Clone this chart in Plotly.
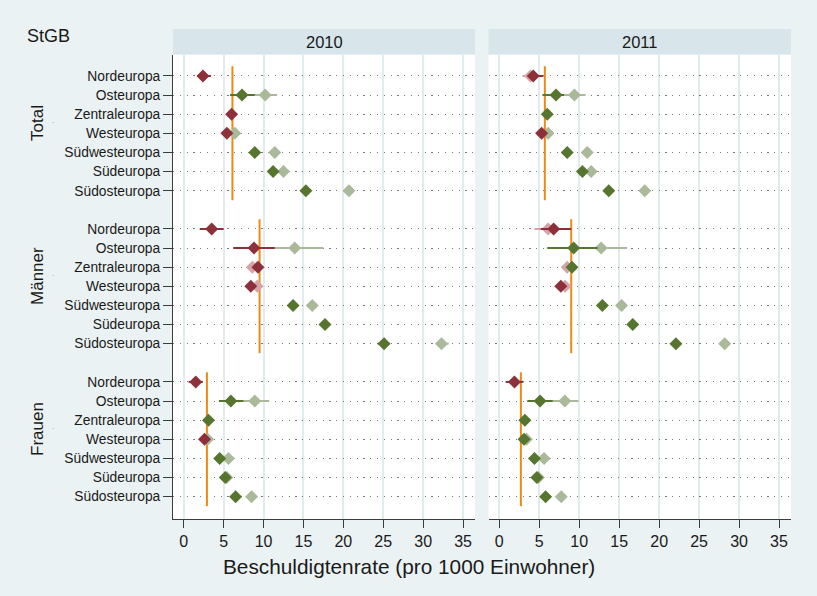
import plotly.graph_objects as go

regions = ["Nordeuropa", "Osteuropa", "Zentraleuropa", "Westeuropa",
           "Südwesteuropa", "Südeuropa", "Südosteuropa"]
groups = ["Total", "Männer", "Frauen"]
years = ["2010", "2011"]
x_ticks = [0, 5, 10, 15, 20, 25, 30, 35]

# reference rate per group (orange line)
ref_2010 = [6.1, 9.5, 2.9]
ref_2011 = [5.7, 9.0, 2.7]

# first estimate (solid colours); 7 regions per group: Total, Männer, Frauen
main_2010 = [2.4, 7.3, 6.0, 5.4, 8.9, 11.2, 15.3,
             3.5, 8.8, 9.3, 8.4, 13.7, 17.7, 25.1,
             1.5, 5.9, 3.1, 2.6, 4.5, 5.2, 6.5]
main_lo_2010 = [1.7, 5.8, None, None, None, None, None,
                2.0, 6.2, None, None, None, None, 24.3,
                0.6, 4.4, None, None, None, None, None]
main_hi_2010 = [3.4, 8.9, None, None, None, None, None,
                5.0, 11.4, None, None, None, None, 25.8,
                2.4, 7.5, None, None, None, None, None]

# second estimate (pale colours)
alt_2010 = [None, 10.2, None, 6.4, 11.4, 12.5, 20.7,
            None, 13.9, 8.6, 9.2, 16.1, None, 32.3,
            None, 8.9, None, 3.0, 5.6, 5.4, 8.5]
alt_lo_2010 = [None, 8.7, None, None, None, None, None,
               None, 10.5, None, None, None, None, 31.6,
               None, 7.5, None, None, None, None, None]
alt_hi_2010 = [None, 11.7, None, None, None, None, None,
               None, 17.5, None, None, None, None, 33.2,
               None, 10.7, None, None, None, None, None]

main_2011 = [4.25, 7.1, 6.0, 5.3, 8.5, 10.4, 13.7,
             6.8, 9.3, 9.1, 7.7, 12.9, 16.7, 22.1,
             1.9, 5.1, 3.2, 3.1, 4.4, 4.7, 5.8]
main_lo_2011 = [3.6, 5.4, None, None, None, None, None,
                5.2, 6.0, None, None, None, None, 21.6,
                0.8, 3.5, None, None, None, None, None]
main_hi_2011 = [5.5, 8.1, None, None, None, None, None,
                9.0, 12.3, None, None, None, None, 22.6,
                3.0, 6.7, None, None, None, None, None]

alt_2011 = [3.9, 9.4, None, 6.1, 11.0, 11.5, 18.2,
            6.1, 12.75, 8.5, 8.25, 15.3, None, 28.2,
            None, 8.2, None, 3.4, 5.6, 4.9, 7.75]
alt_lo_2011 = [2.9, 8.1, None, None, None, None, None,
               4.4, 12.3, None, None, None, None, 27.6,
               None, 6.7, None, None, None, None, None]
alt_hi_2011 = [4.6, 10.8, None, None, None, None, None,
               7.0, 16.0, None, None, None, None, 28.7,
               None, 9.9, None, None, None, None, None]

W, H = 817, 596
BG = "#eaf2f3"
STRIP = "#d8e5ea"
GRID = "#e2ecef"
AXIS = "#3c3c3c"
ORANGE = "#ec8a14"
RED, GREEN = "#8e3039", "#56762f"
PINK, PALEGREEN = "#d6a3a9", "#a9b99a"
FONT = "Liberation Sans, Arial, Helvetica, sans-serif"

PLOT_TOP, PLOT_BOTTOM = 54.5, 519
PANELS = [(173, 475), (488.5, 791)]


def px_x(p):
    return p / W


def px_y(p):
    return 1 - p / H


row_pos = [g * 8 + i for g in range(len(groups)) for i in range(len(regions))]

fig = go.Figure()


def add_series(vals, lo, hi, ref, xa, ya, col_below, col_above):
    for below, col in ((True, col_below), (False, col_above)):
        xs, ys, ep, em = [], [], [], []
        for k, v in enumerate(vals):
            if v is None:
                continue
            g = k // len(regions)
            if (v < ref[g]) != below:
                continue
            xs.append(v)
            ys.append(row_pos[k])
            ep.append(hi[k] - v if hi[k] is not None else 0)
            em.append(v - lo[k] if lo[k] is not None else 0)
        if not xs:
            continue
        fig.add_trace(go.Scatter(
            x=xs, y=ys, mode="markers", xaxis=xa, yaxis=ya,
            marker=dict(symbol="diamond", size=10, color=col, line=dict(width=0)),
            error_x=dict(type="data", symmetric=False, array=ep, arrayminus=em,
                         color=col, thickness=2, width=0),
            showlegend=False, hoverinfo="x+y"))


panel_data = [
    (ref_2010, main_2010, main_lo_2010, main_hi_2010, alt_2010, alt_lo_2010, alt_hi_2010),
    (ref_2011, main_2011, main_lo_2011, main_hi_2011, alt_2011, alt_lo_2011, alt_hi_2011),
]

for p, (ref, m, mlo, mhi, a, alo, ahi) in enumerate(panel_data):
    xa = "x" if p == 0 else "x2"
    ya = "y" if p == 0 else "y2"
    # reference lines per group
    for g, r in enumerate(ref):
        fig.add_trace(go.Scatter(
            x=[r, r], y=[g * 8 - 0.5, g * 8 + 6.5], mode="lines",
            xaxis=xa, yaxis=ya, line=dict(color=ORANGE, width=2),
            showlegend=False, hoverinfo="skip"))
    add_series(a, alo, ahi, ref, xa, ya, PINK, PALEGREEN)
    add_series(m, mlo, mhi, ref, xa, ya, RED, GREEN)

x_common = dict(
    range=[-1.35, 36.5], tickmode="array", tickvals=x_ticks,
    ticktext=[str(t) for t in x_ticks],
    ticks="outside", ticklen=8, tickwidth=1, tickcolor=AXIS,
    showline=True, linecolor=AXIS, linewidth=1,
    showgrid=True, gridcolor=GRID, gridwidth=1.8,
    zeroline=False, tickfont=dict(size=16, color="#1a1a1a", family=FONT),
    automargin=False, fixedrange=True)

y_common = dict(
    range=[23.17, -1.12], tickmode="array", tickvals=row_pos,
    showgrid=True, gridcolor="#7a7a7a", gridwidth=1.2, griddash="1.2px,5.6px",
    zeroline=False, automargin=False, fixedrange=True,
    domain=[px_y(PLOT_BOTTOM), px_y(PLOT_TOP)])

fig.update_layout(
    width=W, height=H, margin=dict(l=0, r=0, t=0, b=0),
    paper_bgcolor=BG, plot_bgcolor="white",
    font=dict(family=FONT, color="#1a1a1a"),
    xaxis=dict(domain=[px_x(PANELS[0][0]), px_x(PANELS[0][1])], anchor="y", **x_common),
    xaxis2=dict(domain=[px_x(PANELS[1][0]), px_x(PANELS[1][1])], anchor="y2", **x_common),
    yaxis=dict(anchor="x", ticktext=regions * len(groups), ticks="outside", ticklen=9,
               tickwidth=1, tickcolor=AXIS, showline=True, linecolor=AXIS, linewidth=1,
               tickfont=dict(size=13.8, color="#1a1a1a", family=FONT), **y_common),
    yaxis2=dict(anchor="x2", matches="y", showticklabels=False, ticks="",
                showline=False, **y_common),
)

# facet header strips
for (x0, x1), yr in zip(PANELS, years):
    fig.add_shape(type="rect", xref="paper", yref="paper",
                  x0=px_x(x0), x1=px_x(x1), y0=px_y(PLOT_TOP), y1=px_y(29),
                  fillcolor=STRIP, line=dict(width=0))
    fig.add_annotation(x=px_x((x0 + x1) / 2), y=px_y(42), xref="paper", yref="paper",
                       text=yr, showarrow=False, font=dict(size=16.5, color="#1a1a1a"),
                       xanchor="center", yanchor="middle")

# group labels on the left
for g, name in enumerate(groups):
    fig.add_annotation(x=px_x(38), y=g * 8 + 2.46, xref="paper", yref="y",
                       text=name, textangle=-90, showarrow=False,
                       font=dict(size=17, color="#1a1a1a"),
                       xanchor="center", yanchor="middle")
    fig.add_annotation(x=px_x(53), y=g * 8 + 2.46, xref="paper", yref="y",
                       text="·", showarrow=False, font=dict(size=7, color="#777"),
                       xanchor="center", yanchor="middle")

fig.add_annotation(x=px_x(25), y=px_y(36), xref="paper", yref="paper",
                   text="StGB", showarrow=False, font=dict(size=18, color="#1a1a1a"),
                   xanchor="left", yanchor="middle")

fig.add_annotation(x=px_x(409.5), y=px_y(566), xref="paper", yref="paper",
                   text="Beschuldigtenrate (pro 1000 Einwohner)", showarrow=False,
                   font=dict(size=20.8, color="#1a1a1a"),
                   xanchor="center", yanchor="middle")

fig.write_html("out.html")
